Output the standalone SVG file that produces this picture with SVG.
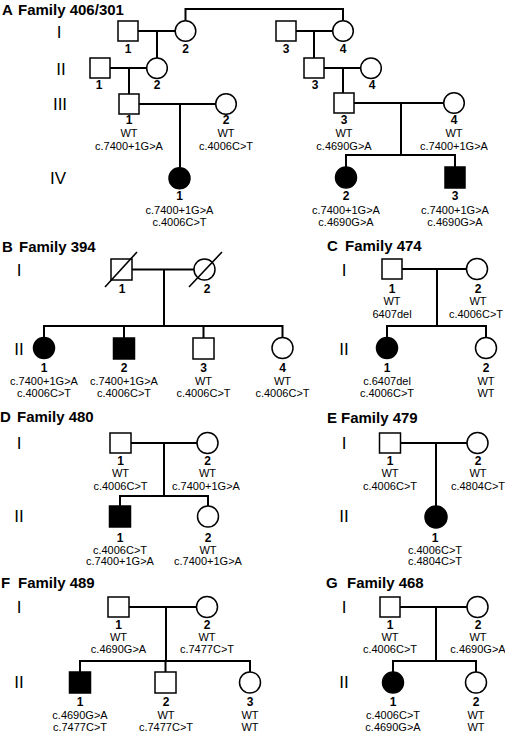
<svg xmlns="http://www.w3.org/2000/svg" width="505" height="735" viewBox="0 0 505 735">
<style>
.s{fill:#fff;stroke:#000;stroke-width:1.5}
.a{fill:#000;stroke:#000;stroke-width:1.5}
.ln{fill:none;stroke:#000;stroke-width:2}
.sl{fill:none;stroke:#000;stroke-width:1.6}
text{font-family:"Liberation Sans",Arial,sans-serif;fill:#000}
.n{font-size:12px;font-weight:bold;text-anchor:middle}
.t{font-size:11px;text-anchor:middle}
.g{font-size:17px;text-anchor:middle}
.h{font-size:15px;font-weight:bold}
</style>
<rect width="505" height="735" fill="#fff"/>
<g id="titles">
<text class="h" x="2" y="15">A</text><text class="h" x="18" y="15">Family 406/301</text>
<text class="h" x="2" y="252">B</text><text class="h" x="19" y="252">Family 394</text>
<text class="h" x="327" y="251">C</text><text class="h" x="345" y="251">Family 474</text>
<text class="h" x="0" y="422">D</text><text class="h" x="17" y="422">Family 480</text>
<text class="h" x="327" y="423">E</text><text class="h" x="341" y="423">Family 479</text>
<text class="h" x="1" y="588">F</text><text class="h" x="18" y="588">Family 489</text>
<text class="h" x="326" y="588">G</text><text class="h" x="347" y="588">Family 468</text>
</g>
<g id="generations">
<text class="g" x="59" y="38">I</text><text class="g" x="61" y="75">II</text><text class="g" x="60" y="110">III</text><text class="g" x="58" y="184">IV</text>
<text class="g" x="19" y="276">I</text><text class="g" x="19" y="355">II</text>
<text class="g" x="344" y="276">I</text><text class="g" x="344" y="355">II</text>
<text class="g" x="19" y="449">I</text><text class="g" x="19" y="522">II</text>
<text class="g" x="344" y="449">I</text><text class="g" x="344" y="522">II</text>
<text class="g" x="19" y="613">I</text><text class="g" x="19" y="688">II</text>
<text class="g" x="344" y="613">I</text><text class="g" x="344" y="688">II</text>
</g>
<g id="connectors">
<path class="ln" d="M185.5 20.5V9H343V20.5"/>
<path class="ln" d="M138 31H175.5M157 31V58"/>
<path class="ln" d="M296 31H333M314 31V58"/>
<path class="ln" d="M110 68H147M129 68V94"/>
<path class="ln" d="M324 68H361M343 68V93"/>
<path class="ln" d="M139 104H216M180 104V167.5"/>
<path class="ln" d="M354 103H444M401 103V155M346 167V155H455V167"/>
<path class="ln" d="M132 269.5H194M164 269.5V326M44 337.5V326H282.5V337.5M124 326V338M203.5 326V338"/>
<path class="ln" d="M402 269H466.5M437 269V326M387 337.5V326H486V337.5"/>
<path class="ln" d="M131 443H197M164 443V496M120 506V496H208V506"/>
<path class="ln" d="M400 443H467M436 443V506"/>
<path class="ln" d="M129 607H196.5M166 607V661M80 672V661H250V672M165.5 661V672"/>
<path class="ln" d="M400 607H467M436 607V661M393 672V661H476V672"/>
</g>
<g id="A-I-1"><rect class="s" x="118" y="21" width="20" height="20"/><text class="n" x="128" y="53">1</text></g>
<g id="A-I-2"><circle class="s" cx="185.5" cy="31" r="10.3"/><text class="n" x="185.5" y="53">2</text></g>
<g id="A-I-3"><rect class="s" x="276" y="21" width="20" height="20"/><text class="n" x="286" y="53">3</text></g>
<g id="A-I-4"><circle class="s" cx="343" cy="31" r="10.3"/><text class="n" x="343" y="53">4</text></g>
<g id="A-II-1"><rect class="s" x="90" y="58" width="20" height="20"/><text class="n" x="99" y="89">1</text></g>
<g id="A-II-2"><circle class="s" cx="157" cy="68.3" r="10.3"/><text class="n" x="157" y="89">2</text></g>
<g id="A-II-3"><rect class="s" x="304" y="58" width="20" height="20"/><text class="n" x="315" y="89">3</text></g>
<g id="A-II-4"><circle class="s" cx="371" cy="68.3" r="10.3"/><text class="n" x="372" y="89">4</text></g>
<g id="A-III-1"><rect class="s" x="119" y="94" width="20" height="20"/><text class="n" x="129" y="124">1</text><text class="t" x="129" y="137">WT</text><text class="t" x="129" y="150">c.7400+1G&gt;A</text></g>
<g id="A-III-2"><circle class="s" cx="226" cy="104" r="10.3"/><text class="n" x="226" y="124">2</text><text class="t" x="226" y="137">WT</text><text class="t" x="226" y="150">c.4006C&gt;T</text></g>
<g id="A-III-3"><rect class="s" x="334" y="93" width="20" height="20"/><text class="n" x="344" y="124">3</text><text class="t" x="344" y="137">WT</text><text class="t" x="344" y="150">c.4690G&gt;A</text></g>
<g id="A-III-4"><circle class="s" cx="454" cy="103" r="10.3"/><text class="n" x="454" y="124">4</text><text class="t" x="454" y="137">WT</text><text class="t" x="454" y="150">c.7400+1G&gt;A</text></g>
<g id="A-IV-1"><circle class="a" cx="179.5" cy="178.3" r="10.5"/><text class="n" x="179.5" y="200">1</text><text class="t" x="179.5" y="214">c.7400+1G&gt;A</text><text class="t" x="179.5" y="226">c.4006C&gt;T</text></g>
<g id="A-IV-2"><circle class="a" cx="346" cy="177.5" r="10.5"/><text class="n" x="346" y="200">2</text><text class="t" x="346" y="214">c.7400+1G&gt;A</text><text class="t" x="346" y="226">c.4690G&gt;A</text></g>
<g id="A-IV-3"><rect class="a" x="445" y="167" width="20" height="21"/><text class="n" x="455" y="200">3</text><text class="t" x="455" y="214">c.7400+1G&gt;A</text><text class="t" x="455" y="226">c.4690G&gt;A</text></g>
<g id="B-I-1"><rect class="s" x="111" y="259" width="21" height="21"/><path class="sl" d="M105 287L137 252"/><text class="n" x="122" y="293">1</text></g>
<g id="B-I-2"><circle class="s" cx="204.5" cy="269.5" r="10.5"/><path class="sl" d="M189 287L222 252"/><text class="n" x="207" y="293">2</text></g>
<g id="B-II-1"><circle class="a" cx="44" cy="348" r="10.5"/><text class="n" x="44" y="372">1</text><text class="t" x="44" y="385">c.7400+1G&gt;A</text><text class="t" x="44" y="397">c.4006C&gt;T</text></g>
<g id="B-II-2"><rect class="a" x="113.5" y="338" width="21" height="21"/><text class="n" x="124" y="372">2</text><text class="t" x="124" y="385">c.7400+1G&gt;A</text><text class="t" x="124" y="397">c.4006C&gt;T</text></g>
<g id="B-II-3"><rect class="s" x="193" y="338" width="21" height="21"/><text class="n" x="203.5" y="372">3</text><text class="t" x="203.5" y="385">WT</text><text class="t" x="203.5" y="397">c.4006C&gt;T</text></g>
<g id="B-II-4"><circle class="s" cx="282.5" cy="348" r="10.5"/><text class="n" x="282.5" y="372">4</text><text class="t" x="282.5" y="385">WT</text><text class="t" x="282.5" y="397">c.4006C&gt;T</text></g>
<g id="C-I-1"><rect class="s" x="382" y="259" width="20" height="20"/><text class="n" x="392" y="293">1</text><text class="t" x="392" y="305">WT</text><text class="t" x="392" y="318">6407del</text></g>
<g id="C-I-2"><circle class="s" cx="477" cy="269" r="10.5"/><text class="n" x="478" y="293">2</text><text class="t" x="478" y="305">WT</text><text class="t" x="476" y="318">c.4006C&gt;T</text></g>
<g id="C-II-1"><circle class="a" cx="387" cy="348" r="10.5"/><text class="n" x="387" y="372">1</text><text class="t" x="387" y="385">c.6407del</text><text class="t" x="387" y="397">c.4006C&gt;T</text></g>
<g id="C-II-2"><circle class="s" cx="486" cy="348" r="10.5"/><text class="n" x="486" y="372">2</text><text class="t" x="486" y="385">WT</text><text class="t" x="486" y="397">WT</text></g>
<g id="D-I-1"><rect class="s" x="110" y="433" width="21" height="20"/><text class="n" x="120.5" y="465">1</text><text class="t" x="120.5" y="477">WT</text><text class="t" x="120.5" y="490">c.4006C&gt;T</text></g>
<g id="D-I-2"><circle class="s" cx="207.5" cy="443" r="10.5"/><text class="n" x="207.5" y="465">2</text><text class="t" x="207.5" y="477">WT</text><text class="t" x="206" y="490">c.7400+1G&gt;A</text></g>
<g id="D-II-1"><rect class="a" x="109.5" y="506" width="21" height="21"/><text class="n" x="120" y="542">1</text><text class="t" x="120" y="553.5">c.4006C&gt;T</text><text class="t" x="120" y="565">c.7400+1G&gt;A</text></g>
<g id="D-II-2"><circle class="s" cx="208" cy="516.5" r="10.5"/><text class="n" x="208" y="542">2</text><text class="t" x="208" y="553.5">WT</text><text class="t" x="208" y="565">c.7400+1G&gt;A</text></g>
<g id="E-I-1"><rect class="s" x="379.5" y="433" width="21" height="20"/><text class="n" x="390" y="465">1</text><text class="t" x="390" y="477">WT</text><text class="t" x="390" y="490">c.4006C&gt;T</text></g>
<g id="E-I-2"><circle class="s" cx="477.5" cy="443" r="10.5"/><text class="n" x="478" y="465">2</text><text class="t" x="478" y="477">WT</text><text class="t" x="478" y="490">c.4804C&gt;T</text></g>
<g id="E-II-1"><circle class="a" cx="436" cy="517" r="11"/><text class="n" x="435" y="542">1</text><text class="t" x="435" y="553.5">c.4006C&gt;T</text><text class="t" x="435" y="565">c.4804C&gt;T</text></g>
<g id="F-I-1"><rect class="s" x="108" y="597" width="21" height="20"/><text class="n" x="118.5" y="629">1</text><text class="t" x="118.5" y="641">WT</text><text class="t" x="118.5" y="653">c.4690G&gt;A</text></g>
<g id="F-I-2"><circle class="s" cx="207" cy="607" r="10.5"/><text class="n" x="207" y="629">2</text><text class="t" x="207" y="641">WT</text><text class="t" x="207" y="653">c.7477C&gt;T</text></g>
<g id="F-II-1"><rect class="a" x="69.5" y="672" width="21" height="21"/><text class="n" x="80" y="706">1</text><text class="t" x="80" y="719">c.4690G&gt;A</text><text class="t" x="80" y="731">c.7477C&gt;T</text></g>
<g id="F-II-2"><rect class="s" x="155" y="672" width="21" height="21"/><text class="n" x="166" y="706">2</text><text class="t" x="166" y="719">WT</text><text class="t" x="166" y="731">c.7477C&gt;T</text></g>
<g id="F-II-3"><circle class="s" cx="250" cy="682.5" r="10.5"/><text class="n" x="250" y="706">3</text><text class="t" x="250" y="719">WT</text><text class="t" x="250" y="731">WT</text></g>
<g id="G-I-1"><rect class="s" x="380" y="597" width="20" height="20"/><text class="n" x="390" y="629">1</text><text class="t" x="390" y="641">WT</text><text class="t" x="390" y="653">c.4006C&gt;T</text></g>
<g id="G-I-2"><circle class="s" cx="477.5" cy="607" r="10.5"/><text class="n" x="478" y="629">2</text><text class="t" x="478" y="641">WT</text><text class="t" x="478" y="653">c.4690G&gt;A</text></g>
<g id="G-II-1"><circle class="a" cx="393" cy="682.5" r="10.5"/><text class="n" x="393" y="706">1</text><text class="t" x="393" y="719">c.4006C&gt;T</text><text class="t" x="393" y="731">c.4690G&gt;A</text></g>
<g id="G-II-2"><circle class="s" cx="476" cy="682.5" r="10.5"/><text class="n" x="476" y="706">2</text><text class="t" x="476" y="719">WT</text><text class="t" x="476" y="731">WT</text></g>
</svg>
